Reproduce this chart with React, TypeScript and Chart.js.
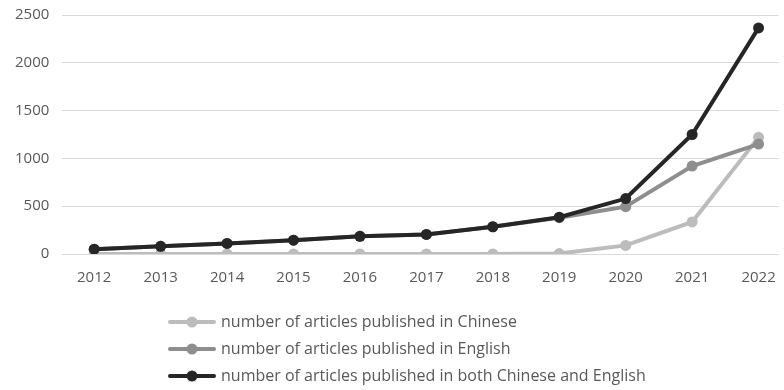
import React, { useEffect, useRef } from "react";
import { Chart, registerables } from "chart.js";

Chart.register(...registerables);

const years = [2012, 2013, 2014, 2015, 2016, 2017, 2018, 2019, 2020, 2021, 2022];
const chinese = [0, 0, 0, 0, 0, 0, 0, 5, 90, 335, 1220];
const english = [50, 80, 110, 145, 185, 205, 285, 380, 495, 920, 1150];
const both = [50, 80, 110, 145, 185, 205, 285, 385, 580, 1250, 2365];
const seriesLabels = [
  "number of articles published in Chinese",
  "number of articles published in English",
  "number of articles published in both Chinese and English",
];
const seriesColors = ["#bcbcbc", "#8e8e8e", "#262626"];
const yTicks = [0, 500, 1000, 1500, 2000, 2500];

const FONT = "'Open Sans', 'DejaVu Sans', sans-serif";
const SHIFT = 7;

const legendPlugin = {
  id: "customLegend",
  afterDraw(chart: any) {
    const ctx = chart.ctx;
    ctx.save();
    const x0 = 170;
    const ys = [322 + SHIFT, 349 + SHIFT, 376 + SHIFT];
    chart.data.datasets.forEach((ds: any, i: number) => {
      const y = ys[i];
      ctx.strokeStyle = ds.borderColor;
      ctx.lineWidth = 4;
      ctx.lineCap = "round";
      ctx.beginPath();
      ctx.moveTo(x0, y);
      ctx.lineTo(x0 + 44, y);
      ctx.stroke();
      ctx.fillStyle = ds.borderColor;
      ctx.beginPath();
      ctx.arc(x0 + 22, y, 5.5, 0, Math.PI * 2);
      ctx.fill();
      ctx.fillStyle = "#595959";
      ctx.font = `16px ${FONT}`;
      ctx.textBaseline = "middle";
      ctx.textAlign = "left";
      ctx.fillText(ds.label, x0 + 51, y);
    });
    ctx.restore();
  },
};

export default function App() {
  const ref = useRef<HTMLCanvasElement | null>(null);
  useEffect(() => {
    if (!ref.current) return;
    const series = [chinese, english, both];
    const chart = new Chart(ref.current, {
      type: "line",
      data: {
        datasets: series.map((vals, i) => ({
          label: seriesLabels[i],
          data: years.map((yr, j) => ({ x: yr, y: vals[j] })),
          borderColor: seriesColors[i],
          backgroundColor: seriesColors[i],
          pointBackgroundColor: seriesColors[i],
          pointBorderColor: seriesColors[i],
          borderWidth: 4,
          pointRadius: 5.5,
          pointBorderWidth: 0,
          tension: 0,
          order: 2 - i,
        })),
      },
      options: {
        animation: false,
        responsive: true,
        maintainAspectRatio: false,
        layout: { padding: { top: 0, bottom: 96, left: 2, right: 0 } },
        plugins: {
          legend: { display: false },
          tooltip: { enabled: false },
        },
        scales: {
          x: {
            type: "linear",
            min: 2011.52,
            max: 2022.3,
            grid: { display: false },
            border: { display: false },
            ticks: {
              stepSize: 1,
              includeBounds: false,
              padding: 7,
              color: "#595959",
              font: { family: FONT, size: 15 },
              callback: (v: any) => String(v),
            },
          },
          y: {
            min: 0,
            max: 2500,
            afterBuildTicks: (axis: any) => {
              axis.ticks = yTicks.map((v) => ({ value: v }));
            },
            grid: { color: "#d9d9d9", lineWidth: 1, drawTicks: false },
            border: { display: false },
            ticks: {
              padding: 13,
              color: "#595959",
              font: { family: FONT, size: 15 },
              callback: (v: any) => String(v),
            },
          },
        },
      },
      plugins: [legendPlugin],
    });
    return () => chart.destroy();
  }, []);
  return (
    <div style={{ position: "fixed", left: 0, top: -SHIFT, width: 784, height: 390 + SHIFT }}>
      <canvas ref={ref} />
    </div>
  );
}
